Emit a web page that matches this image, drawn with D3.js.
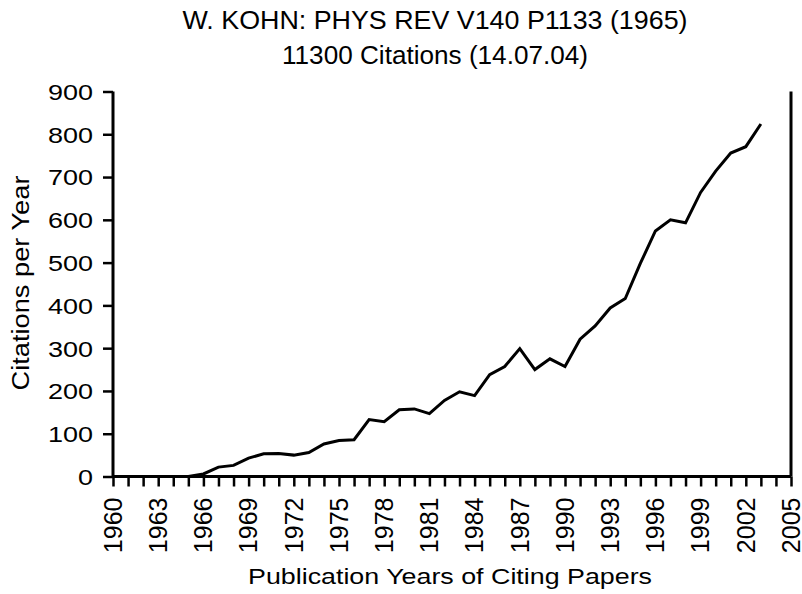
<!DOCTYPE html>
<html>
<head>
<meta charset="utf-8">
<script src="https://cdn.jsdelivr.net/npm/d3@7"></script>
<style>
  body { margin: 0; background: #fff; }
  text { font-family: "Liberation Sans", Arial, sans-serif; fill: #000; }
</style>
</head>
<body>
<svg id="chart"></svg>
<script>
const years = d3.range(1960, 2004);
const citations = [
    0, 0, 0, 0, 0, 0, 6, 22, 26, 43,
    53, 54, 50, 56, 76, 84, 86, 133, 128, 156,
    158, 147, 178, 198, 189, 238, 257, 299, 250, 275,
    257, 321, 352, 394, 416, 498, 574, 600, 593, 664,
    714, 756, 771, 824
];
const yTicks = [0, 100, 200, 300, 400, 500, 600, 700, 800, 900];
const xTickLabels = d3.range(1960, 2006, 3);
const titleLines = ['W. KOHN: PHYS REV V140 P1133 (1965)', '11300 Citations (14.07.04)'];

const width = 802, height = 594;
const margin = { top: 91.5, right: 11, bottom: 117.5, left: 113 };
const innerW = width - margin.left - margin.right;
const innerH = height - margin.top - margin.bottom;

const svg = d3.select('#chart').attr('width', width).attr('height', height);
const g = svg.append('g').attr('transform', `translate(${margin.left},${margin.top})`);

const x = d3.scaleLinear().domain([1960, 2005]).range([0, innerW]);
const y = d3.scaleLinear().domain([0, 900]).range([innerH, 0]);

// title (the original font runs wider than Liberation, so stretch to length)
const titleLen = [505, 306];
svg.append('g')
    .selectAll('text')
    .data(titleLines)
    .join('text')
    .attr('x', 435)
    .attr('y', (d, i) => 29 + i * 35)
    .attr('text-anchor', 'middle')
    .attr('font-size', 25)
    .attr('textLength', (d, i) => titleLen[i])
    .attr('lengthAdjust', 'spacingAndGlyphs')
    .text(d => d);

// y axis
const yAxis = g.append('g')
    .call(d3.axisLeft(y).tickValues(yTicks).tickSize(10));
yAxis.selectAll('text')
    .attr('font-size', 22.5)
    .attr('x', 0)
    .attr('dy', '0.35em')
    .attr('text-anchor', 'end')
    .attr('transform', 'translate(-20,0) scale(1.2,1)');

// x axis, ticks every year, labels every 3 years
const xAxis = g.append('g')
    .attr('transform', `translate(0,${innerH})`)
    .call(d3.axisBottom(x).tickValues(d3.range(1960, 2006)).tickSize(10)
        .tickFormat(d => xTickLabels.includes(d) ? d : ''));
xAxis.selectAll('text')
    .attr('font-size', 25)
    .attr('text-anchor', 'end')
    .attr('transform', 'rotate(-90)')
    .attr('x', -21)
    .attr('y', 0)
    .attr('dy', '0.33em');

[yAxis, xAxis].forEach(a => {
    a.attr('font-family', null);
    a.select('.domain').attr('stroke', '#000').attr('stroke-width', 3);
    a.selectAll('.tick line').attr('stroke', '#000').attr('stroke-width', 2.5);
});
xAxis.select('.domain').attr('d', `M0,0H${innerW}`);
yAxis.select('.domain').attr('d', `M0,0V${innerH}`);

// right frame line
g.append('line')
    .attr('x1', innerW).attr('x2', innerW)
    .attr('y1', 0).attr('y2', innerH)
    .attr('stroke', '#000').attr('stroke-width', 3);

// data line
const line = d3.line()
    .x((d, i) => x(years[i]))
    .y(d => y(d));

g.append('path')
    .datum(citations)
    .attr('fill', 'none')
    .attr('stroke', '#000')
    .attr('stroke-width', 3)
    .attr('stroke-linejoin', 'miter')
    .attr('d', line);

// axis titles
svg.append('text')
    .attr('x', 450)
    .attr('y', 584)
    .attr('text-anchor', 'middle')
    .attr('font-size', 22)
    .attr('textLength', 404)
    .attr('lengthAdjust', 'spacingAndGlyphs')
    .text('Publication Years of Citing Papers');

svg.append('text')
    .attr('transform', `translate(29,283) rotate(-90)`)
    .attr('text-anchor', 'middle')
    .attr('font-size', 23)
    .attr('textLength', 215)
    .attr('lengthAdjust', 'spacingAndGlyphs')
    .text('Citations per Year');
</script>
</body>
</html>
